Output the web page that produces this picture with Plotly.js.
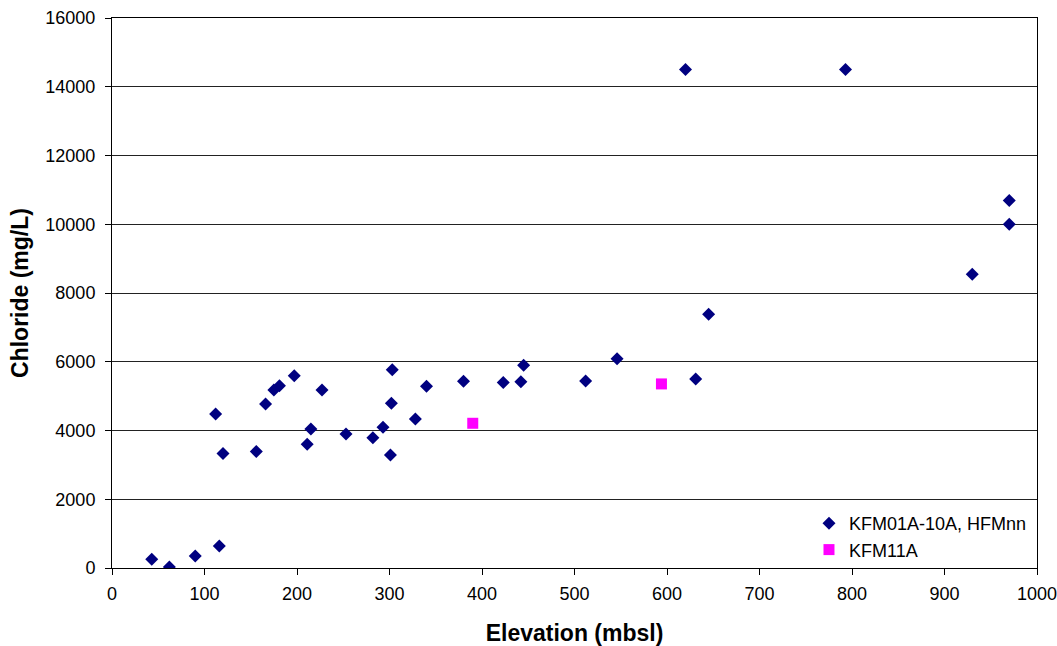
<!DOCTYPE html>
<html>
<head>
<meta charset="utf-8">
<script src="https://cdn.plot.ly/plotly-3.0.1.min.js"></script>
<style>
  html, body { margin: 0; padding: 0; background: #fff; }
  #chart { width: 1057px; height: 646px; }
</style>
</head>
<body>
<div id="chart"></div>
<script>
// Chloride concentration vs. elevation (metres below sea level)
const kfmElevation = [43, 62, 90, 116, 112, 120, 156, 166, 175, 181, 197, 211, 215, 227, 253,
  282, 293, 303, 302, 301, 328, 340, 380, 423, 442, 445, 512, 546, 620, 631, 645, 793, 930, 970, 970];
const kfmChloride = [255, 30, 350, 640, 4480, 3330, 3390, 4770, 5180, 5300, 5590, 3600, 4045, 5180, 3900,
  3790, 4095, 5770, 4790, 3290, 4335, 5290, 5430, 5395, 5420, 5895, 5440, 6090, 14500, 5500, 7380, 14500, 8545, 10690, 10000];

const kfm11Elevation = [390, 594];
const kfm11Chloride = [4210, 5355];

const xTicks = [0, 100, 200, 300, 400, 500, 600, 700, 800, 900, 1000];
const yTicks = [0, 2000, 4000, 6000, 8000, 10000, 12000, 14000, 16000];

const font = "Arial, 'Liberation Sans', sans-serif";

const traces = [
  {
    x: kfmElevation, y: kfmChloride,
    type: 'scatter', mode: 'markers',
    name: 'KFM01A-10A, HFMnn',
    marker: { symbol: 'diamond', size: 10, color: '#000080' }
  },
  {
    x: kfm11Elevation, y: kfm11Chloride,
    type: 'scatter', mode: 'markers',
    name: 'KFM11A',
    marker: { symbol: 'square', size: 11, color: '#FF00FF' }
  }
];

const layout = {
  width: 1057, height: 646,
  margin: { l: 112, r: 20, t: 18, b: 78 },
  paper_bgcolor: '#fff', plot_bgcolor: '#fff',
  font: { family: font, size: 18, color: '#000' },
  showlegend: true,
  legend: {
    x: 0.7535, y: 0.0, xanchor: 'left', yanchor: 'bottom',
    bgcolor: 'rgba(255,255,255,0)',
    font: { family: font, size: 18, color: '#000' },
    itemwidth: 30, tracegroupgap: 2
  },
  xaxis: {
    range: [0, 1000], tickvals: xTicks, ticktext: xTicks.map(String),
    ticks: 'outside', ticklen: 6, tickcolor: '#000', ticklabelstandoff: 3,
    ticklabeloverflow: 'allow',
    showline: true, linecolor: '#000', linewidth: 1, mirror: true,
    showgrid: false, zeroline: false,
    tickfont: { family: font, size: 18, color: '#000' },
    title: { text: '<b>Elevation (mbsl)</b>', font: { family: font, size: 23, color: '#000' }, standoff: 22 }
  },
  yaxis: {
    range: [0, 16000], tickvals: yTicks, ticktext: yTicks.map(String),
    ticks: 'outside', ticklen: 6, tickcolor: '#000', ticklabelstandoff: 6,
    showline: true, linecolor: '#000', linewidth: 1, mirror: true,
    showgrid: true, gridcolor: '#222', gridwidth: 1, zeroline: false,
    tickfont: { family: font, size: 18, color: '#000' },
    title: { text: '<b>Chloride (mg/L)</b>', font: { family: font, size: 23, color: '#000' }, standoff: 10 }
  }
};

Plotly.newPlot('chart', traces, layout, { displayModeBar: false, staticPlot: true });
</script>
</body>
</html>
